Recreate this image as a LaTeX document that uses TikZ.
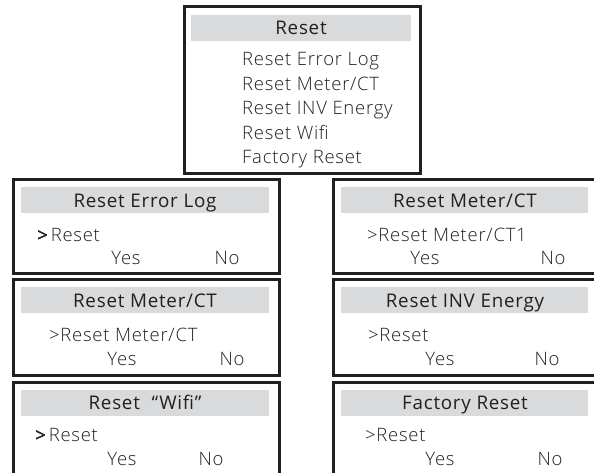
\documentclass[tikz,border=0pt]{standalone}
\usepackage{fontspec}
\setmainfont{Open Sans}
\newfontfamily\regf{Open Sans}[LetterSpace=4]
\IfFontExistsTF{Open Sans Light}{\newfontfamily\lightf{Open Sans Light}[LetterSpace=4]}{\newfontfamily\lightf{Open Sans}[LetterSpace=4]}
\newfontfamily\boldf{Open Sans}[FakeBold=1.5]
\definecolor{ink}{HTML}{231F20}
\definecolor{hdrgray}{HTML}{D9DADB}
\tikzset{
  frame/.style={draw=ink, line width=2.6pt, inner sep=0pt, anchor=north west},
  hdrbar/.style={fill=hdrgray, draw=none, inner sep=0pt, anchor=north west, minimum height=26pt},
  ttl/.style={font=\regf\fontsize{18.8}{21}\selectfont, text=ink, inner sep=0pt, anchor=base},
  itm/.style={font=\lightf\fontsize{18.5}{21}\selectfont, text=ink, inner sep=0pt, anchor=base west},
  yn/.style={font=\lightf\fontsize{18.5}{21}\selectfont, text=ink, inner sep=0pt, anchor=base},
}
\begin{document}
\begin{tikzpicture}[x=1pt,y=-1pt]
\useasboundingbox (0,0) rectangle (594,472);
\clip (0,0) rectangle (594,472);
% top menu
\node[hdrbar, minimum width=220pt] (tophdr) at (191,15) {};
\node[frame, minimum width=236pt, minimum height=167pt] (topbox) at (183,5) {};
\node[ttl] (toptitle) at (301,34.5) {Reset};
\node[itm] (m1) at (242,65.5) {Reset Error Log};
\node[itm] (m2) at (242,90) {Reset Meter/CT};
\node[itm] (m3) at (242,114.5) {Reset INV Energy};
\node[itm] (m4) at (242,139) {Reset Wifi};
\node[itm] (m5) at (242,163.5) {Factory Reset};
% left column
\node[hdrbar, minimum width=248pt] (h1) at (21,187) {};
\node[frame, minimum width=266pt, minimum height=94pt] (b1) at (12,178) {};
\node[ttl] (t1) at (145,207.5) {Reset Error Log};
\node[itm] (a1) at (37,241.5) {{\boldf >}\,Reset};
\node[yn] (y1) at (126,264.5) {Yes};
\node[yn] (n1) at (227,264.5) {No};

\node[hdrbar, minimum width=248pt] (h2) at (21,287) {};
\node[frame, minimum width=266pt, minimum height=96pt] (b2) at (12,278) {};
\node[ttl] (t2) at (145,307.5) {Reset Meter/CT};
\node[itm] (a2) at (49,341.5) {>Reset Meter/CT};
\node[yn] (y2) at (122,365.5) {Yes};
\node[yn] (n2) at (232,365.5) {No};

\node[hdrbar, minimum width=248pt] (h3) at (21,390) {};
\node[frame, minimum width=266pt, minimum height=110pt] (b3) at (12,381) {};
\node[ttl] (t3) at (145,409.5) {Reset\hspace{6pt} “Wifi”};
\node[itm] (a3) at (35,441.5) {{\boldf >}\,Reset};
\node[yn] (y3) at (122,465.5) {Yes};
\node[yn] (n3) at (211,465.5) {No};
% right column
\node[hdrbar, minimum width=247pt] (h4) at (341,187) {};
\node[frame, minimum width=265pt, minimum height=94pt] (b4) at (332,178) {};
\node[ttl] (t4) at (465,207.5) {Reset Meter/CT};
\node[itm] (a4) at (367,241.5) {>Reset Meter/CT1};
\node[yn] (y4) at (425,264.5) {Yes};
\node[yn] (n4) at (553,264.5) {No};

\node[hdrbar, minimum width=247pt] (h5) at (341,287) {};
\node[frame, minimum width=265pt, minimum height=96pt] (b5) at (332,278) {};
\node[ttl] (t5) at (465,307.5) {Reset INV Energy};
\node[itm] (a5) at (368,341.5) {>Reset};
\node[yn] (y5) at (440,365.5) {Yes};
\node[yn] (n5) at (547,365.5) {No};

\node[hdrbar, minimum width=247pt] (h6) at (341,390) {};
\node[frame, minimum width=265pt, minimum height=110pt] (b6) at (332,381) {};
\node[ttl] (t6) at (465,409.5) {Factory Reset};
\node[itm] (a6) at (365,441.5) {>Reset};
\node[yn] (y6) at (440,465.5) {Yes};
\node[yn] (n6) at (550,465.5) {No};
\end{tikzpicture}
\end{document}
